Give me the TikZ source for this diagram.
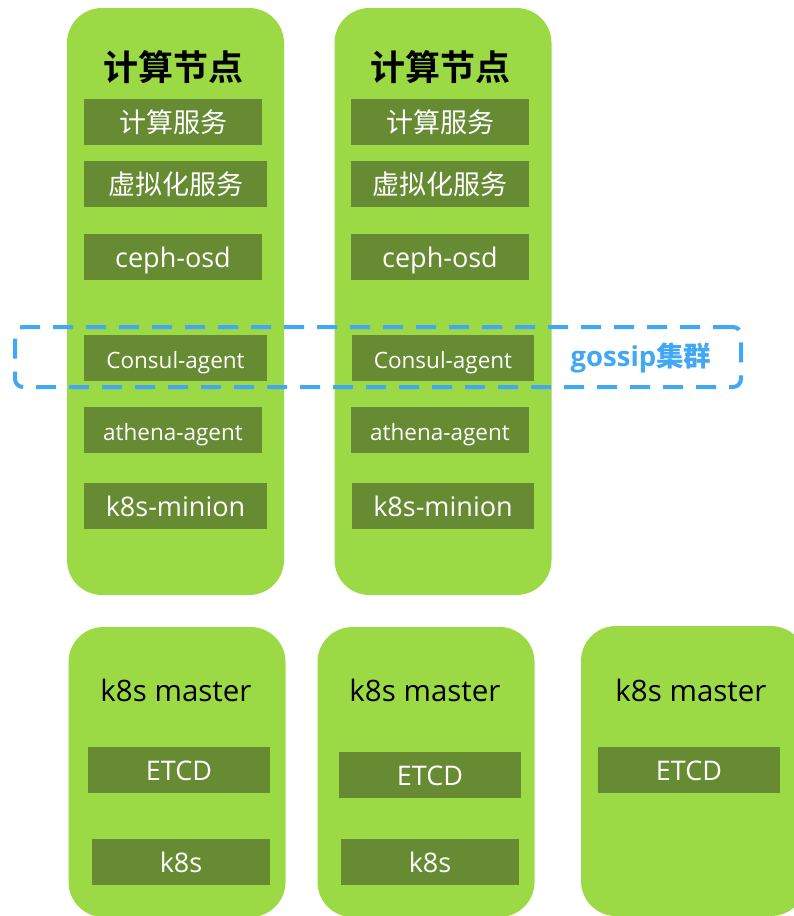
\documentclass[tikz,border=0pt]{standalone}
\usepackage{fontspec}
\setmainfont{Open Sans}
\newfontfamily\cjk{Noto Sans CJK SC}
\newfontfamily\cjkb{Noto Sans CJK SC Bold}
\definecolor{lgreen}{HTML}{9BDA44}
\definecolor{dgreen}{HTML}{668B33}
\definecolor{gblue}{HTML}{42A7F5}
\begin{document}
\begin{tikzpicture}[x=1pt,y=-1pt,
  bigbox/.style={fill=lgreen,draw=none,rounded corners=35pt,inner sep=0pt,minimum width=217pt},
  inbox/.style={fill=dgreen,draw=none,inner sep=0pt,minimum height=46pt,text=white,text height=20pt,text depth=0pt},
  title/.style={font=\cjkb\fontsize{35}{40}\selectfont,text=black},
  master/.style={font=\fontsize{29.5}{34}\selectfont,text=black},
  big/.style={font=\fontsize{27}{32}\selectfont},
  small/.style={font=\fontsize{22.5}{26}\selectfont},
  cn/.style={font=\cjk\fontsize{27}{32}\selectfont}]
\useasboundingbox (0,0) rectangle (794,916);
% compute nodes
\node[bigbox,minimum height=587pt] (c1) at (175.5,301.5) {};
\node[bigbox,minimum height=587pt] (c2) at (443,301.5) {};
\node[title] (t1) at (173,67) {计算节点};
\node[title] (t2) at (440,67) {计算节点};
% column 1
\node[inbox,cn,minimum width=178pt] (a1) at (173,122) {计算服务};
\node[inbox,cn,minimum width=183pt] (a2) at (175.5,184) {虚拟化服务};
\node[inbox,big,minimum width=178pt] (a3) at (173,257) {ceph-osd};
\node[inbox,small,minimum width=183pt] (a4) at (175.5,358) {Consul-agent};
\node[inbox,small,minimum width=178pt] (a5) at (173,430) {athena-agent};
\node[inbox,big,minimum width=183pt] (a6) at (175.5,506) {k8s-minion};
% column 2
\node[inbox,cn,minimum width=178pt] (b1) at (440,122) {计算服务};
\node[inbox,cn,minimum width=178pt] (b2) at (440,184) {虚拟化服务};
\node[inbox,big,minimum width=178pt] (b3) at (440,257) {ceph-osd};
\node[inbox,small,minimum width=182pt] (b4) at (443,358) {Consul-agent};
\node[inbox,small,minimum width=178pt] (b5) at (440,430) {athena-agent};
\node[inbox,big,minimum width=182pt] (b6) at (443,506) {k8s-minion};
% gossip cluster
\node[draw=gblue,line width=4pt,dash pattern=on 20pt off 13pt,rounded corners=8pt,
      minimum width=726pt,minimum height=60pt,inner sep=0pt] (g) at (378,357) {};
\node[text=gblue,font=\bfseries\fontsize{27.5}{32}\selectfont] (gl) at (641,358) {gossip{\cjkb 集群}};
% masters
\node[bigbox,minimum height=290pt] (m1) at (177,772) {};
\node[bigbox,minimum height=290pt] (m2) at (426,772) {};
\node[bigbox,minimum height=290pt,minimum width=225pt] (m3) at (693.5,771) {};
\node[master] (mt1) at (176,690) {k8s master};
\node[master] (mt2) at (425,690) {k8s master};
\node[master] (mt3) at (691,690) {k8s master};
\node[inbox,big,minimum width=182pt] (e1) at (179,770) {ETCD};
\node[inbox,big,minimum width=182pt] (e2) at (430,775) {ETCD};
\node[inbox,big,minimum width=182pt] (e3) at (689,770) {ETCD};
\node[inbox,big,minimum width=178pt] (k1) at (181,862) {k8s};
\node[inbox,big,minimum width=178pt] (k2) at (430,862) {k8s};
\end{tikzpicture}
\end{document}
